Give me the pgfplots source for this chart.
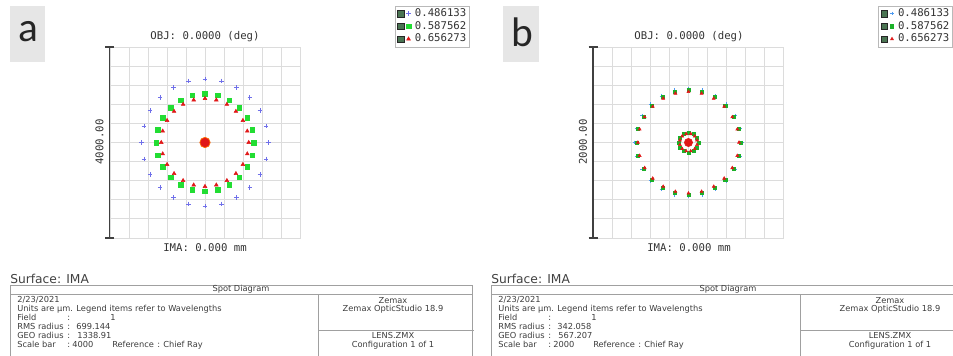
\documentclass[border=0pt]{standalone}
\usepackage{pgfplots}
\pgfplotsset{compat=1.18}
\usepackage{fontspec}
\setmainfont{DejaVu Sans}
\newfontfamily\mono{DejaVu Sans Mono}
\newfontfamily\calib{Carlito}
\definecolor{gridc}{HTML}{DCDCDC}
\definecolor{bluec}{HTML}{7070EA}
\definecolor{greenc}{HTML}{22DD33}
\definecolor{redc}{HTML}{E01818}
\definecolor{iconc}{HTML}{4A7452}
\definecolor{labbg}{HTML}{E6E6E6}
\definecolor{txt}{HTML}{333333}
\definecolor{tbl}{HTML}{3C3C3C}
\definecolor{tline}{HTML}{A0A0A0}

\pgfplotsset{spot/.style={
  scale only axis, width=142.5pt, height=143.25pt,
  grid=major, major grid style={gridc, line width=0.7pt},
  axis line style={gridc, line width=0.7pt},
  xticklabels={}, yticklabels={}, tick style={draw=none},
  clip=false,
  legend style={at={(1.5,1.217)}, anchor=north west, draw=gray!55,
    font=\mono\fontsize{8}{9}\selectfont, text=txt, inner sep=1.5pt,
    row sep=0.9pt, nodes={inner sep=0.6pt}, cells={anchor=west},
    /tikz/every odd column/.append style={column sep=2.5pt}},
  legend image code/.code={
    \draw[black!85, fill=iconc, line width=0.4pt] (-0.02cm,-0.085cm) rectangle (0.15cm,0.085cm);
    \draw[#1] plot coordinates {(0.27cm,0cm)};},
}}

\begin{document}
\begin{tikzpicture}
\useasboundingbox (0pt,0pt) rectangle (714.75pt,-267pt);

% ---------------- panel a ----------------
\begin{axis}[spot, at={(82.5pt,-178.5pt)}, anchor=south west,
  xmin=-2000, xmax=2000, ymin=-2000, ymax=2000,
  xtick={-2000,-1600,...,2000}, ytick={-2000,-1600,...,2000}]
\addplot[only marks, mark=+, mark size=1.7pt, bluec, line width=0.45pt] coordinates {
(1333,0)(1288,345)(1154,667)(943,943)(667,1154)(345,1288)(0,1333)(-345,1288)
(-667,1154)(-943,943)(-1154,667)(-1288,345)(-1333,0)(-1288,-345)(-1154,-667)(-943,-943)
(-667,-1154)(-345,-1288)(0,-1333)(345,-1288)(667,-1154)(943,-943)(1154,-667)(1288,-345)(0,0)};
\addlegendentry{0.486133}
\addplot[only marks, mark=square*, mark size=1.7pt, greenc] coordinates {
(1026,0)(991,266)(889,513)(725,725)(513,889)(266,991)(0,1026)(-266,991)
(-513,889)(-725,725)(-889,513)(-991,266)(-1026,0)(-991,-266)(-889,-513)(-725,-725)
(-513,-889)(-266,-991)(0,-1026)(266,-991)(513,-889)(725,-725)(889,-513)(991,-266)(0,0)};
\addlegendentry{0.587562}
\addplot[only marks, mark=triangle*, mark size=1.6pt, redc] coordinates {
(921,0)(890,238)(798,461)(651,651)(461,798)(238,890)(0,921)(-238,890)
(-461,798)(-651,651)(-798,461)(-890,238)(-921,0)(-890,-238)(-798,-461)(-651,-651)
(-461,-798)(-238,-890)(0,-921)(238,-890)(461,-798)(651,-651)(798,-461)(890,-238)};
\addlegendentry{0.656273}
\addplot[only marks, mark=*, mark size=3.9pt, mark options={fill=redc, draw=orange!85!red, line width=0.5pt}, forget plot] coordinates {(0,0)};
\end{axis}

% ---------------- panel b ----------------
\begin{axis}[spot, at={(445.1pt,-178.5pt)}, anchor=south west,
  xmin=-1000, xmax=1000, ymin=-1000, ymax=1000,
  xtick={-1000,-800,...,1000}, ytick={-1000,-800,...,1000}]
\addplot[only marks, mark=+, mark size=1.4pt, bluec!70!cyan, line width=0.45pt] coordinates {
(565,0)(546,146)(489,283)(400,400)(283,489)(146,546)(0,565)(-146,546)
(-283,489)(-400,400)(-489,283)(-546,146)(-565,0)(-546,-146)(-489,-283)(-400,-400)
(-283,-489)(-146,-546)(0,-565)(146,-546)(283,-489)(400,-400)(489,-283)(546,-146)(0,0)};
\addlegendentry{0.486133}
\addplot[only marks, mark=square*, mark size=1.15pt, greenc!80!black] coordinates {
(548,0)(529,142)(475,274)(387,387)(274,475)(142,529)(0,548)(-142,529)
(-274,475)(-387,387)(-475,274)(-529,142)(-548,0)(-529,-142)(-475,-274)(-387,-387)
(-274,-475)(-142,-529)(0,-548)(142,-529)(274,-475)(387,-387)(475,-274)(529,-142)
(105,0)(91,53)(53,91)(0,105)(-53,91)(-91,53)(-105,0)(-91,-53)(-53,-91)(0,-105)(53,-91)(91,-53)};
\addlegendentry{0.587562}
\addplot[only marks, mark=triangle*, mark size=1.3pt, redc] coordinates {
(532,0)(514,138)(461,266)(376,376)(266,461)(138,514)(0,532)(-138,514)
(-266,461)(-376,376)(-461,266)(-514,138)(-532,0)(-514,-138)(-461,-266)(-376,-376)
(-266,-461)(-138,-514)(0,-532)(138,-514)(266,-461)(376,-376)(461,-266)(514,-138)
(90,24)(66,66)(24,90)(-24,90)(-66,66)(-90,24)(-90,-24)(-66,-66)(-24,-90)(24,-90)(66,-66)(90,-24)};
\addlegendentry{0.656273}
\addplot[only marks, mark=*, mark size=3.1pt, mark options={fill=redc, draw=redc}, forget plot] coordinates {(0,0)};
\end{axis}

\begin{scope}[x=0.75pt, y=-0.75pt]
% panel labels
\fill[labbg] (10,6) rectangle (45,62);
\node[font=\calib\fontsize{31}{31}\selectfont, text=black!85] at (28.5,32) {a};
\fill[labbg] (503,6) rectangle (539,62);
\node[font=\calib\fontsize{31}{31}\selectfont, text=black!85] at (522,32) {b};

% scale bars and plot texts
\foreach \sx/\cx/\lab in {109.5/205/4000.00, 593/689/2000.00} {
  \draw[black!75, line width=0.9pt] (\sx,47) -- (\sx,238);
  \draw[black!75, line width=0.9pt] (\sx-4.5,47) -- (\sx+4.5,47);
  \draw[black!75, line width=0.9pt] (\sx-4.5,238) -- (\sx+4.5,238);
  \node[font=\mono\fontsize{8}{8}\selectfont, text=txt, rotate=90] at (\sx-10,142) {\lab};
  \node[font=\mono\fontsize{8}{8}\selectfont, text=txt] at (\cx,37) {OBJ: 0.0000 (deg)};
  \node[font=\mono\fontsize{8}{8}\selectfont, text=txt] at (\cx,248) {IMA: 0.000 mm};
}

% tables
\foreach \ox/\rw/\dv/\rc/\rms/\geo/\sb in {0/472/318/393/699.144/1338.91/4000, 481/965/800/890/342.058/567.207/2000} {
  \begin{scope}[xshift=\ox*0.75pt]
  \node[font=\fontsize{9.2}{9.2}\selectfont, text=black!75, anchor=west, inner sep=0pt] at (10,279) {Surface: IMA};
  \draw[tline, line width=0.6pt] (10,360) -- (10,285) -- (\rw-\ox,285) -- (\rw-\ox,360);
  \draw[tline, line width=0.6pt] (10,294) -- (\rw-\ox,294);
  \draw[tline, line width=0.6pt] (\dv-\ox,294) -- (\dv-\ox,360);
  \draw[tline, line width=0.6pt] (\dv-\ox,330) -- (\rw-\ox+2,330);
  \node[font=\fontsize{6.2}{6.2}\selectfont, text=tbl, inner sep=0pt] at ({(10+\rw-\ox)/2},289.5) {Spot Diagram};
  \begin{scope}[every node/.style={font=\fontsize{6.2}{6.2}\selectfont, text=tbl, inner sep=0pt, anchor=base west}]
  \node at (17,302.5) {2/23/2021};
  \node at (17,311.5) {Units are µm. Legend items refer to Wavelengths};
  \node at (17,320.5) {Field};
  \node at (67,320.5) {:};
  \node at (110,320.5) {1};
  \node at (17,329.5) {RMS radius};
  \node at (67,329.5) {:};
  \node at (76,329.5) {\rms};
  \node at (17,338.5) {GEO radius};
  \node at (67,338.5) {:};
  \node at (77,338.5) {\geo};
  \node at (17,347.5) {Scale bar};
  \node at (67,347.5) {:};
  \node at (72,347.5) {\sb};
  \node at (112,347.5) {Reference};
  \node at (157,347.5) {:};
  \node at (163,347.5) {Chief Ray};
  \end{scope}
  \begin{scope}[every node/.style={font=\fontsize{6.2}{6.2}\selectfont, text=tbl, inner sep=0pt, anchor=base}]
  \node at (\rc-\ox,303) {Zemax};
  \node at (\rc-\ox,311) {Zemax OpticStudio 18.9};
  \node at (\rc-\ox,338.5) {LENS.ZMX};
  \node at (\rc-\ox,347) {Configuration 1 of 1};
  \end{scope}
  \end{scope}
}
\end{scope}
\end{tikzpicture}
\end{document}
